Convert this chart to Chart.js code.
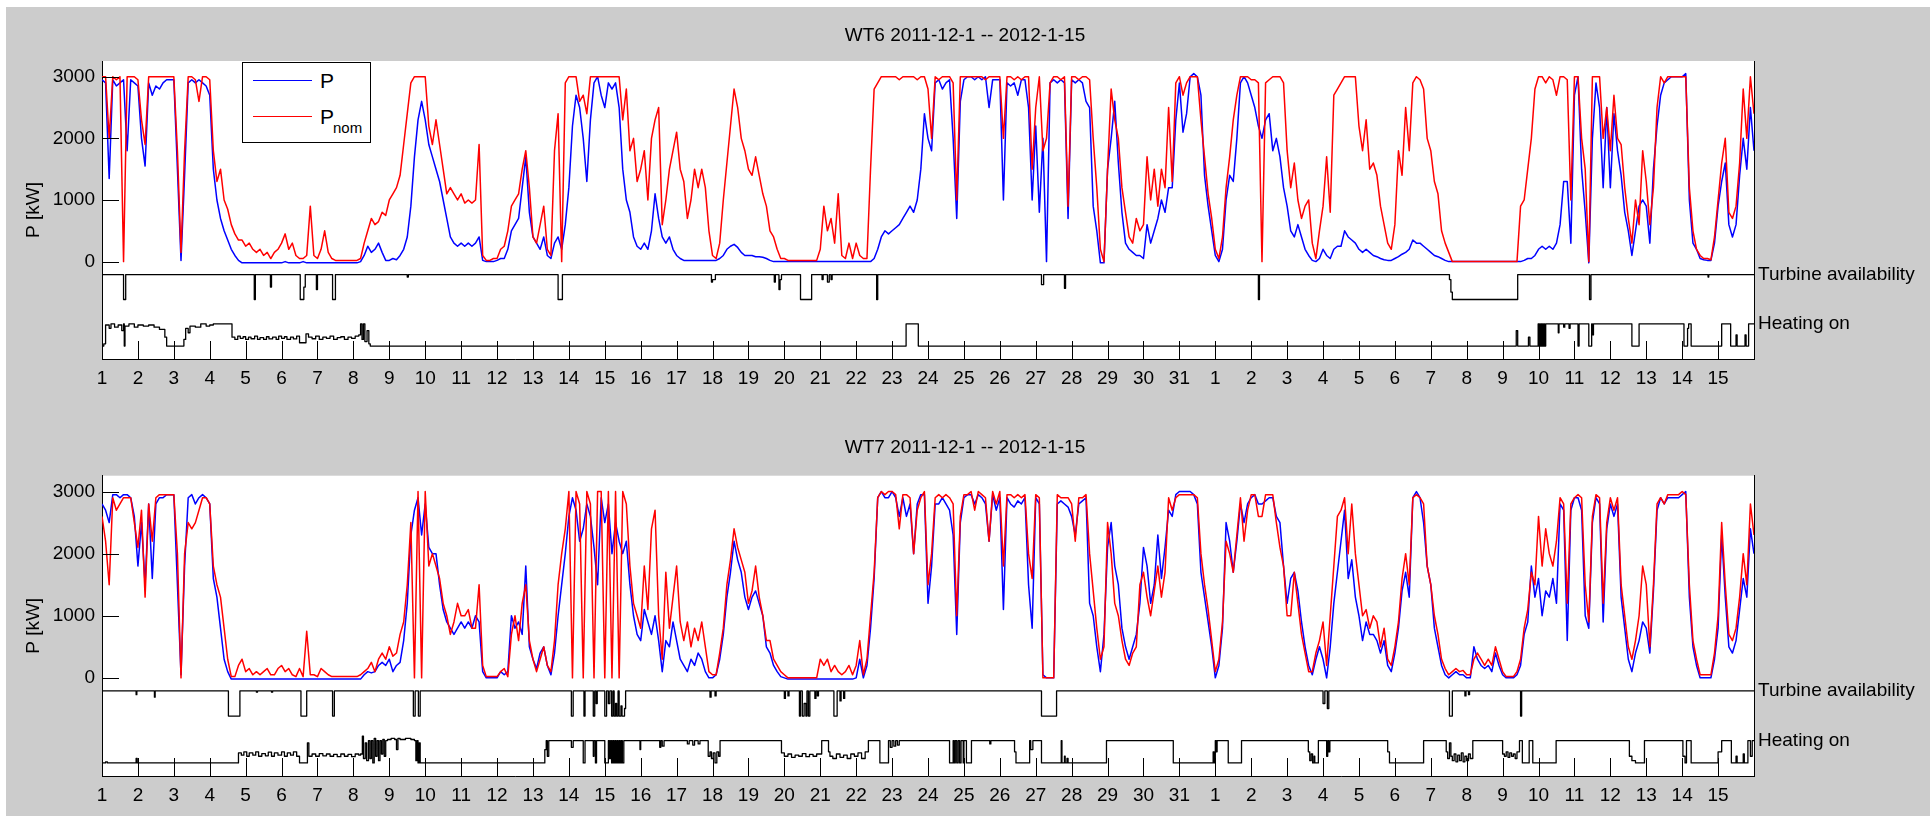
<!DOCTYPE html>
<html>
<head>
<meta charset="utf-8">
<script src="https://cdn.jsdelivr.net/npm/chart.js@4.4.1/dist/chart.umd.min.js"></script>
<style>
html,body{margin:0;padding:0;background:#ffffff;width:1930px;height:816px;overflow:hidden;}
#bg{position:absolute;left:6px;top:7px;width:1924px;height:809px;background:#cccccc;}
.wrap{position:absolute;left:0;width:1930px;height:408px;}
#w1{top:0;} #w2{top:408px;}
canvas{display:block;}
#legend{position:absolute;left:242px;top:62px;width:127px;height:79px;border:1px solid #000;background:#fff;
  font-family:"Liberation Sans",Arial,sans-serif;color:#000;}
#legend .ln{position:absolute;left:10px;width:59px;height:0;border-top:1.5px solid;}
#legend .tx{position:absolute;left:77px;font-size:21px;line-height:20px;}
#legend .sub{position:absolute;left:90px;font-size:15px;line-height:15px;}
</style>
</head>
<body>
<div id="bg"></div>
<div class="wrap" id="w1"><canvas id="c1" width="1930" height="408"></canvas></div>
<div class="wrap" id="w2"><canvas id="c2" width="1930" height="408"></canvas></div>
<div id="legend">
  <div class="ln" style="top:17px;border-color:#0000ff;"></div>
  <div class="tx" style="top:8px;" id="lg1"></div>
  <div class="ln" style="top:53px;border-color:#ff0000;"></div>
  <div class="tx" style="top:44px;" id="lg2"></div>
  <div class="sub" style="top:57px;" id="lg2s"></div>
</div>
<script>
// ---------------- data ----------------
const STEP = 0.1; // days between samples of the power series
const panelTitles = ['WT6 2011-12-1 -- 2012-1-15', 'WT7 2011-12-1 -- 2012-1-15'];
const seriesNames = ['P', 'P', 'nom'];
const statusLabels = ['Turbine availability', 'Heating on'];
const yLabel = 'P [kW]';
const yTicks = [0, 1000, 2000, 3000];
const dayLabels = ['1','2','3','4','5','6','7','8','9','10','11','12','13','14','15','16','17','18','19','20',
  '21','22','23','24','25','26','27','28','29','30','31','1','2','3','4','5','6','7','8','9','10','11','12','13','14','15'];

const wt6Pnom = [
 3000,3000,2000,3000,2950,3000,0,3000,3000,3000,
 2950,2300,1900,3000,3000,3000,3000,3000,3000,3000,
 3000,1800,150,1800,3000,3000,2950,2600,3000,3000,
 2950,1800,1300,1500,1000,850,600,450,350,350,
 250,300,200,150,200,100,150,50,150,200,
 300,450,200,300,100,50,50,100,900,100,
 50,200,500,150,50,20,20,20,20,20,
 20,20,50,300,500,700,600,650,800,750,
 1000,1100,1200,1400,1900,2400,2900,3000,3000,3000,
 3000,2200,1900,2300,1900,1500,1100,1200,1100,1000,
 1100,950,1000,950,1000,1900,100,20,20,50,
 50,200,250,500,900,1000,1100,1500,1800,1200,
 400,300,600,900,200,100,1800,2400,0,2900,
 3000,3000,3000,2600,2700,2400,3000,3000,3000,3000,
 3000,3000,3000,3000,3000,2300,2800,1800,2000,1300,
 1500,1800,1000,2000,2300,2500,600,1000,1500,1800,
 2100,1500,1300,700,1000,1500,1200,1500,1200,500,
 100,50,300,1000,1600,2200,2800,2500,2000,1800,
 1500,1400,1700,1400,1100,900,500,400,200,50,
 50,20,20,20,20,20,20,20,20,20,
 200,900,500,700,300,1100,100,50,300,50,
 300,100,50,50,1500,2800,2900,3000,3000,3000,
 3000,3000,2950,3000,3000,3000,3000,2950,3000,3000,
 2800,2000,3000,2950,3000,3000,3000,2900,1000,3000,
 3000,3000,3000,3000,3000,3000,2950,3000,3000,3000,
 3000,2000,3000,3000,2950,3000,2950,3000,3000,1500,
 2500,3000,1800,2000,2900,3000,3000,2950,3000,900,
 3000,3000,2950,3000,3000,2950,2000,1200,200,0,
 1500,2800,2300,2000,1200,800,400,300,700,500,
 600,1700,1000,1500,900,1500,1200,2500,1300,2900,
 3000,2700,2900,3000,3000,3000,2300,1700,1100,700,
 200,50,400,1200,1700,2300,2700,3000,3000,3000,
 2950,2950,2900,0,2900,2950,3000,3000,3000,2900,
 1800,1200,1600,1000,700,900,1000,300,50,500,
 900,1700,800,2700,2800,2900,3000,3000,3000,3000,
 2200,1800,2300,1500,1600,1400,900,600,300,200,
 600,1800,1400,2500,1800,2900,3000,2950,2800,2000,
 1800,1300,1100,500,300,150,0,0,0,0,
 0,0,0,0,0,0,0,0,0,0,
 0,0,0,0,0,900,1000,1500,2000,2800,
 3000,3000,2900,3000,2950,2700,3000,3000,2950,1000,
 3000,3000,2000,1500,0,3000,3000,3000,2000,2500,
 1800,2700,2000,1900,1200,700,300,1000,600,1800,
 1300,600,1200,2500,3000,2900,3000,3000,3000,3000,
 3000,3000,1200,500,200,100,50,50,30,400,
 1000,1600,2000,800,700,900,1600,2800,2000,3000,
 2400
];

const wt6P = [
 2950,2900,1350,2950,2850,2900,2950,1800,2950,2900,
 2850,2000,1550,2900,2700,2850,2800,2900,2950,2950,
 2950,1500,20,1400,2900,2950,2900,2950,2900,2850,
 2700,1500,1000,700,500,350,200,100,20,-20,
 -20,-20,-20,-20,-20,-20,-20,-20,-20,-20,
 -20,0,-20,-20,-20,-20,0,-20,-20,-20,
 -20,-20,-20,-20,-20,-20,-20,-20,-20,-20,
 -20,-20,0,100,250,150,200,300,150,20,
 20,50,30,100,200,400,900,1700,2300,2600,
 2300,1900,1700,1500,1300,1000,700,400,300,250,
 300,250,300,250,300,400,20,0,0,0,
 20,50,50,200,500,600,700,1200,1700,800,
 400,300,200,400,100,50,300,400,200,600,
 1200,2200,2700,2500,2000,1300,2300,2900,3000,2700,
 2500,2900,2800,2900,2500,1500,1000,800,400,250,
 200,300,200,500,1100,700,400,300,400,200,
 100,50,20,20,20,20,20,20,20,20,
 20,20,50,100,200,250,280,230,150,100,
 100,100,80,80,70,50,20,0,0,0,
 0,0,0,0,0,0,0,0,0,0,
 0,0,0,0,0,0,0,0,0,0,
 0,0,0,0,0,50,200,400,500,450,
 500,550,600,700,800,900,800,1000,1500,2400,
 2000,1800,2900,2950,2800,2900,2950,2000,700,2600,
 2950,3000,3000,2950,3000,2950,3000,2500,2950,2950,
 2950,1000,2900,2850,2900,2700,2950,2950,2500,1000,
 2200,800,2000,0,2900,2950,2900,2950,2900,700,
 2950,2900,2950,2900,2600,2500,900,500,-20,-20,
 1500,2000,2600,1600,800,300,200,150,100,100,
 50,600,300,500,700,1000,800,1200,1200,2300,
 2900,2100,2400,3000,3050,3000,2700,1400,900,500,
 100,0,200,1000,1400,1300,2000,2900,3000,2900,
 2700,2500,2200,2000,2300,2400,1800,2000,1700,1200,
 900,500,400,600,400,200,100,20,0,50,
 200,100,50,200,250,250,500,400,350,300,
 200,150,200,150,100,80,50,30,20,20,
 50,80,120,150,200,350,300,300,250,200,
 150,100,80,50,20,0,0,0,0,0,
 0,0,0,0,0,0,0,0,0,0,
 0,0,0,0,0,0,20,50,50,100,
 200,250,200,250,200,300,600,1300,1300,300,
 2700,3000,1500,800,-20,2000,2900,2500,1200,2500,
 1200,2400,1800,1400,800,500,100,500,900,1000,
 900,300,1500,2200,2700,2900,2950,3000,3000,3000,
 3000,3050,1000,300,200,50,30,20,20,300,
 900,1300,1600,600,400,600,1400,2000,1500,2500,
 1800
];

const wt7Pnom = [
 2600,2200,1500,2900,2700,2800,2900,2900,2900,2500,
 2100,2700,1300,2800,2200,2900,2950,2950,2950,2950,
 2950,2000,0,2000,2500,2400,2500,2700,2900,2900,
 2800,1800,1500,1300,800,300,20,20,200,300,
 100,150,50,100,50,100,150,50,50,150,
 200,100,150,50,20,150,20,750,50,50,
 20,150,100,50,20,20,20,20,20,20,
 20,20,50,100,150,250,100,300,400,300,
 500,350,400,700,900,1500,2500,0,3000,0,
 3000,1800,2000,1800,1600,1200,1000,700,900,1200,
 1000,1000,1100,800,800,1500,200,20,20,20,
 20,100,150,20,700,1000,600,1200,1500,600,
 300,100,300,500,200,100,600,1500,2000,2400,
 3000,0,3000,2800,0,3000,2800,0,3000,3000,
 0,3000,0,3000,0,3000,2800,1800,1200,1000,
 800,1800,1100,2400,2700,1000,300,1700,800,1300,
 1800,900,600,900,500,800,600,900,500,100,
 50,50,400,800,1500,1900,2400,2100,1900,1700,
 1200,1400,1800,1300,1000,600,600,300,200,100,
 50,0,0,0,0,0,0,0,0,0,
 300,200,300,100,200,100,50,100,200,50,
 200,600,50,300,1000,1700,2900,3000,2950,3000,
 3000,2950,2400,2950,2950,2900,2000,2700,2900,3000,
 1500,2000,2900,2950,2900,2950,2900,2800,1000,2600,
 2950,2950,3000,2700,3000,2950,2900,2200,3000,2800,
 3000,1800,2950,2950,2900,2950,2900,2950,2000,1600,
 2950,2900,0,0,0,0,2950,2900,2900,2900,
 2800,2200,2900,2900,2950,2000,1400,800,300,500,
 2500,2000,1200,1000,600,300,200,400,500,1500,
 1700,1300,1000,1400,1800,1300,1700,2900,2700,2900,
 2950,2950,2950,2950,2950,2900,2000,1500,1100,600,
 100,300,900,2200,2000,1700,2300,2900,2200,2700,
 2950,2950,2600,2600,2950,2950,2950,2500,2100,1800,
 1000,1000,1700,1200,700,400,100,100,400,600,
 900,200,1000,1800,2600,2700,2900,2000,2800,2000,
 1500,1000,1100,800,1000,900,500,800,300,200,
 500,900,1600,2000,1500,2900,2950,2900,2800,1800,
 1500,1000,700,300,150,50,100,150,100,120,
 50,50,300,400,300,200,300,200,500,300,
 100,20,20,20,100,300,800,1100,1700,1500,
 2600,1800,2400,2000,1800,2200,2900,2800,1200,2800,
 2900,2950,2900,1500,900,2600,2950,2900,1200,2500,
 2900,2700,2900,1500,1000,500,300,600,1000,1800,
 1500,500,1500,2800,2900,2800,2950,2950,2950,2950,
 3000,2950,1500,600,300,50,50,50,50,400,
 1000,2500,1500,700,600,800,1300,2000,1500,2800,
 2300
];

const wt7P = [
 2800,2700,2500,2950,2950,2900,2950,2950,2900,2600,
 1800,2500,1500,2800,1600,2800,2900,2900,2950,2950,
 2950,1500,50,1800,2900,2950,2800,2900,2950,2900,
 2800,1600,1300,800,300,100,-20,-20,-20,-20,
 -20,-20,-20,-20,-20,-20,-20,-20,-20,-20,
 -20,-20,-20,-20,-20,-20,-20,-20,-20,-20,
 -20,-20,-20,-20,-20,-20,-20,-20,-20,-20,
 -20,-20,-20,50,100,80,100,200,250,200,
 300,100,200,250,600,1200,2300,2700,2900,2300,
 2800,2100,2000,2000,1500,1100,900,800,700,800,
 900,800,900,800,1000,900,100,0,0,0,
 0,100,50,100,1000,800,900,700,1800,500,
 300,150,400,500,200,50,400,1000,1500,2000,
 2600,2900,2700,2200,2400,2800,2600,2100,1500,2900,
 2500,2800,2000,2500,2200,2000,2200,1500,1000,700,
 600,1100,900,700,1000,600,100,600,500,900,
 600,300,200,100,300,200,400,300,100,0,
 0,50,300,700,1300,1700,2200,1900,1700,1300,
 1100,1300,1400,1200,1000,500,400,200,100,20,
 0,-20,-20,-20,-20,-20,-20,-20,-20,-20,
 -20,-20,-20,-20,-20,-20,-20,-20,-20,-20,
 0,300,0,200,800,1600,2900,3000,2900,2900,
 3000,2900,2600,2900,2600,2800,2000,2800,2950,2950,
 1200,1800,2800,2800,2900,2800,2700,2300,700,2500,
 2900,2950,2950,2800,2950,2900,2800,2200,2950,2700,
 2900,1100,2900,2800,2750,2850,2800,2900,1500,800,
 2900,2800,50,0,0,0,2800,2850,2800,2750,
 2600,2300,2800,2850,2900,1200,1000,500,100,700,
 2100,2500,1800,1500,800,500,300,500,700,1200,
 2100,1800,1200,1500,2300,1600,2100,2700,2600,2950,
 3000,3000,3000,3000,2950,2800,1700,1300,900,500,
 0,200,800,2500,2200,1700,2200,2800,2500,2800,
 2900,2950,2800,2800,2850,2900,2900,2600,2500,1800,
 1200,1600,1700,1400,900,500,200,50,300,500,
 300,0,500,1200,1700,2200,2700,1600,1900,1300,
 1000,600,900,700,700,600,400,600,200,100,
 400,800,1400,1700,1300,2900,3000,2900,2500,1800,
 1500,800,500,200,50,0,50,100,50,50,
 0,0,500,300,200,150,200,100,400,200,
 50,0,0,0,50,200,700,900,1800,1300,
 1600,1000,1400,1300,1600,1200,2800,2700,600,2700,
 2900,2900,2700,1000,800,2500,2900,2800,900,2400,
 2800,2600,2800,1300,800,300,100,400,600,900,
 800,400,1400,2700,2900,2800,2900,2900,2900,2900,
 2950,3000,1300,500,200,0,0,0,0,300,
 800,2300,1300,500,400,600,1100,1600,1300,2400,
 2000
];

// status series: [day, state] change points (state 1 = available / heating on)
const wt6Avail = [[0,1],[0.6,0],[0.66,1],[4.24,0],[4.27,1],[4.69,0.5],[4.72,1],[5.52,0],[5.62,0.5],[5.66,1],
 [5.97,0.4],[6.0,1],[6.42,0],[6.5,1],[8.5,0.9],[8.53,1],[12.7,0],[12.82,1],[16.97,0.7],[17.0,0.8],[17.08,1],
 [18.72,0.7],[18.75,1],[18.85,0.4],[18.88,0.8],[18.92,1],[19.45,0],[19.76,1],[20.05,0.8],[20.08,1],[20.2,0.7],
 [20.25,1],[20.3,0.8],[20.33,1],[21.57,0],[21.6,1],[26.16,0.6],[26.22,1],[26.8,0.45],[26.83,1],[32.2,0],[32.23,1],
 [37.52,0.8],[37.56,0.3],[37.6,0],[39.42,1],[41.42,0],[41.46,1],[44.72,0.9],[44.74,1],[46,1]];

const wt6Heat = [[0,0],[0.05,0.1],[0.1,0.95],[0.2,0.8],[0.25,1],[0.35,0.85],[0.45,0.95],[0.55,0.7],[0.6,1],[0.62,0],
 [0.64,0.9],[0.75,1],[0.9,0.85],[1.0,0.95],[1.15,0.9],[1.3,0.95],[1.45,0.85],[1.6,0.75],[1.75,0.4],[1.8,0],
 [2.28,0.3],[2.33,0.8],[2.4,0.6],[2.45,0.9],[2.6,0.85],[2.75,1],[2.9,0.9],[3.0,0.95],[3.1,1],[3.62,0.4],
 [3.7,0.3],[3.78,0.45],[3.85,0.35],[3.93,0.42],[4.0,0.3],[4.08,0.4],[4.15,0.33],[4.25,0.45],[4.33,0.3],[4.4,0.38],
 [4.5,0.3],[4.58,0.42],[4.65,0.32],[4.75,0.4],[4.85,0.3],[4.92,0.45],[5.0,0.35],[5.08,0.42],[5.15,0.3],[5.25,0.4],
 [5.33,0.32],[5.42,0.45],[5.5,0.15],[5.68,0.55],[5.75,0.4],[5.85,0.33],[5.95,0.45],[6.05,0.3],[6.15,0.4],[6.25,0.35],
 [6.35,0.45],[6.45,0.3],[6.55,0.38],[6.65,0.42],[6.75,0.3],[6.85,0.4],[6.95,0.35],[7.05,0.45],[7.15,0.5],[7.2,1],
 [7.24,0.3],[7.28,1],[7.32,0.2],[7.38,0.7],[7.43,0.1],[7.47,0],[22.39,1],[22.73,0],[39.38,0.7],[39.42,0],
 [39.72,0.4],[39.76,0],[39.99,1],[40.01,0],[40.03,1],[40.05,0],[40.07,1],[40.09,0],[40.11,1],[40.13,0],[40.15,1],
 [40.17,0],[40.2,1],[40.55,0.6],[40.57,1],[40.7,0.85],[40.73,1],[40.85,0.8],[40.88,1],[41.1,0],[41.13,1],[41.4,0],
 [41.48,1],[41.5,0.5],[41.53,1],[42.6,0],[42.8,1],[44.05,0],[44.15,0.8],[44.18,1],[44.25,0],[45.1,1],[45.35,0],
 [45.5,0.5],[45.53,0],[45.75,0.5],[45.78,0],[45.85,1],[46,1]];

const wt7Avail = [[0,1],[0.95,0.85],[0.97,1],[1.46,0.75],[1.48,1],[3.52,0],[3.84,1],[4.3,0.95],[4.33,1],[4.72,0.95],
 [4.75,1],[5.54,0],[5.7,1],[6.42,0],[6.47,1],[8.67,0],[8.72,1],[8.81,0],[8.86,1],[13.07,0],[13.12,1],[13.42,0],
 [13.45,1],[13.68,0],[13.72,1],[13.76,0.5],[13.79,1],[14.0,0],[14.05,1],[14.1,0.5],[14.14,1],[14.19,0],[14.23,1],
 [14.26,0],[14.3,0.5],[14.33,0],[14.37,1],[14.4,0],[14.45,0.4],[14.48,0],[14.55,0.3],[14.58,1],[16.93,0.75],
 [16.96,1],[17.07,0.8],[17.1,1],[19.0,0.7],[19.03,1],[19.1,0.8],[19.13,1],[19.42,0],[19.45,1],[19.5,0],[19.55,0.5],
 [19.6,0],[19.63,1],[19.67,0],[19.71,1],[19.85,0.7],[19.88,1],[19.92,0.8],[19.95,1],[20.38,0],[20.47,1],[20.55,0.6],
 [20.58,1],[20.65,0.7],[20.68,1],[26.16,0],[26.58,1],[34.0,0.5],[34.05,1],[34.12,0.3],[34.16,1],[37.52,0],[37.6,1],
 [37.95,0.8],[37.98,1],[38.05,0.85],[38.08,1],[39.5,0],[39.53,1],[46,1]];

const wt7Heat = [[0,0],[0.1,0.05],[0.15,0],[0.95,0.2],[0.98,0],[3.8,0.45],[3.88,0.35],[3.95,0.5],[4.03,0.3],
 [4.1,0.45],[4.2,0.35],[4.28,0.5],[4.36,0.3],[4.45,0.42],[4.55,0.32],[4.63,0.48],[4.72,0.3],[4.8,0.45],[4.9,0.35],
 [5.0,0.5],[5.08,0.3],[5.16,0.45],[5.25,0.35],[5.33,0.5],[5.42,0.3],[5.5,0],[5.72,0.9],[5.76,0.3],[5.85,0.4],
 [5.95,0.3],[6.05,0.42],[6.15,0.32],[6.25,0.4],[6.35,0.3],[6.45,0.38],[6.55,0.28],[6.65,0.4],[6.75,0.3],[6.85,0.38],
 [6.95,0.28],[7.05,0.4],[7.15,0.35],[7.2,0.4],[7.25,1.2],[7.28,0.2],[7.33,0.9],[7.37,0.1],[7.42,1],[7.46,0.2],
 [7.5,1],[7.54,0],[7.58,1.1],[7.62,0.3],[7.66,1],[7.7,0.1],[7.74,1],[7.78,0.4],[7.82,1.05],[7.86,0.3],[7.9,1],
 [7.95,1.05],[8.05,1.1],[8.15,1.05],[8.2,0.6],[8.24,1.1],[8.3,1.05],[8.45,1.1],[8.6,1.05],[8.7,1],[8.74,0.1],
 [8.77,1],[8.8,0],[8.83,0.9],[8.86,0],[12.33,0.6],[12.37,1],[12.4,0.3],[12.44,1],[13.07,0.7],[13.12,1],[13.4,0],
 [13.45,1],[13.68,0.3],[13.7,1],[13.74,0],[13.77,1],[14.0,0],[14.1,1],[14.13,0.2],[14.16,1],[14.19,0],[14.22,1],
 [14.25,0],[14.28,1],[14.31,0],[14.34,1],[14.37,0],[14.4,1],[14.43,0],[14.46,1],[14.49,0],[14.53,1],[14.98,0.6],
 [15.0,1],[15.53,0.7],[15.56,1],[15.6,0.75],[15.65,1],[16.3,0.85],[16.35,1],[16.45,0.8],[16.5,1],[16.6,0.85],
 [16.65,1],[16.88,0.3],[16.93,0.5],[16.97,0.2],[17.02,0.45],[17.07,0],[17.12,0.5],[17.17,0.3],[17.21,1],
 [18.92,0.45],[19.0,0.3],[19.1,0.4],[19.2,0.25],[19.3,0.35],[19.4,0.3],[19.5,0.42],[19.6,0.28],[19.7,0.38],
 [19.8,0.3],[19.9,0.4],[20.04,1],[20.23,0.5],[20.27,0.3],[20.35,0.2],[20.45,0.4],[20.55,0.25],[20.65,0.35],
 [20.75,0.2],[20.85,0.4],[20.95,0.3],[21.05,0.45],[21.15,0.2],[21.25,0.5],[21.34,1],[21.66,0],[21.9,1],[21.95,0.7],
 [22.0,1],[22.05,0.75],[22.1,1],[22.15,0.8],[22.2,1],[23.6,0],[23.7,1],[23.73,0],[23.76,1],[23.8,0],[23.84,1],
 [23.88,0],[23.92,1],[23.98,0],[24.0,1],[24.07,0],[24.21,1],[24.72,0.85],[24.75,1],[25.41,0.5],[25.45,0],[25.83,1],
 [25.86,0.6],[25.92,1],[26.16,0],[26.71,1],[26.73,0],[26.8,0.3],[26.82,0],[26.87,0.2],[26.9,0],[27.97,1],[29.83,0],
 [30.94,0.5],[30.97,0],[31.0,1],[31.03,0.5],[31.05,1],[31.36,0],[31.73,1],[33.59,0.5],[33.63,0.1],[33.67,0.4],
 [33.71,0],[33.75,0.3],[33.77,0],[33.87,1],[34.1,0.3],[34.13,1],[34.16,0.5],[34.19,1],[35.8,0.5],[35.85,0],
 [36.8,1],[37.43,0.5],[37.47,0.2],[37.52,0.9],[37.56,0.3],[37.6,0.1],[37.65,0.4],[37.7,0.05],[37.75,0.35],
 [37.8,0.1],[37.85,0.45],[37.9,0.05],[37.95,0.3],[38.0,0.1],[38.05,0.4],[38.1,0.2],[38.17,1],[39.0,0.4],
 [39.05,0.3],[39.1,0.5],[39.15,0.25],[39.2,0.45],[39.25,0.3],[39.3,0.4],[39.35,0.2],[39.4,0.5],[39.47,1],
 [39.55,0],[39.74,1],[39.84,0],[40.49,1],[42.53,0.3],[42.6,0.1],[42.7,0],[42.95,1],[44.02,0.3],[44.08,0],
 [44.12,1],[44.25,0],[45.0,0.5],[45.1,1],[45.37,0],[45.5,0.3],[45.53,0],[45.7,0.4],[45.73,0],[45.83,1],
 [45.9,0.3],[45.95,1],[46,1]];

// ---------------- layout / style ----------------
const FONT = '"Liberation Sans", Arial, sans-serif';
const Y_MIN = -1580, Y_MAX = 3255;
const AV_HI = -210, AV_LO = -615, HT_HI = -1010, HT_LO = -1370;
const X_MAX = 46;

document.getElementById('lg1').textContent = seriesNames[0];
document.getElementById('lg2').textContent = seriesNames[1];
document.getElementById('lg2s').textContent = seriesNames[2];

const toXY = arr => arr.map((v, i) => ({x: Math.round(i * STEP * 10) / 10, y: v}));
const toStatus = (arr, hi, lo) => arr.map(([x, v]) => ({x: x, y: lo + v * (hi - lo)}));

const areaBg = {
  id: 'areaBg',
  beforeDraw(chart) {
    const {ctx, chartArea: a} = chart;
    ctx.save(); ctx.fillStyle = '#ffffff';
    ctx.fillRect(a.left, a.top, a.right - a.left, a.bottom - a.top);
    ctx.restore();
  }
};
const inwardTicks = {
  id: 'inwardTicks',
  afterDatasetsDraw(chart) {
    const {ctx, chartArea: a, scales: {x, y}} = chart;
    ctx.save(); ctx.strokeStyle = '#000'; ctx.lineWidth = 1; ctx.beginPath();
    x.ticks.forEach(t => { const px = Math.round(x.getPixelForValue(t.value)) + 0.5;
      ctx.moveTo(px, a.bottom); ctx.lineTo(px, a.bottom - 18); });
    y.ticks.forEach(t => { const py = Math.round(y.getPixelForValue(t.value)) + 0.5;
      ctx.moveTo(a.left, py); ctx.lineTo(a.left + 17, py); });
    ctx.stroke(); ctx.restore();
  }
};

function makePanel(id, title, p, pnom, avail, heat, cfg) {
  const lineDs = (label, data, color, order) => ({label, data, borderColor: color, backgroundColor: color,
    borderWidth: 1.5, pointRadius: 0, pointHoverRadius: 0, tension: 0, order, borderJoinStyle: 'round', fill: false});
  return new Chart(document.getElementById(id), {
    type: 'line',
    data: {
      datasets: [
        lineDs('Pnom', toXY(pnom), '#ff0000', 0),
        lineDs('P', toXY(p), '#0000ff', 1),
        Object.assign(lineDs(statusLabels[0], toStatus(avail, AV_HI, AV_LO), '#000000', 2), {stepped: true, borderWidth: 1.3}),
        Object.assign(lineDs(statusLabels[1], toStatus(heat, HT_HI, HT_LO), '#000000', 3), {stepped: true, borderWidth: 1.3})
      ]
    },
    options: {
      responsive: false, animation: false, devicePixelRatio: 1,
      layout: {padding: 0},
      events: [],
      plugins: {
        legend: {display: false}, tooltip: {enabled: false},
        title: {display: true, text: title, color: '#000',
          font: {family: FONT, size: 19, weight: 'normal', lineHeight: 1.2},
          padding: {top: cfg.tTop, bottom: cfg.tBot}}
      },
      scales: {
        x: {type: 'linear', position: 'bottom', min: 0, max: X_MAX,
          grid: {display: false, drawTicks: false},
          border: {display: true, color: '#000', width: 1},
          afterBuildTicks: s => { s.ticks = dayLabels.map((_, i) => ({value: i})); },
          ticks: {autoSkip: false, maxRotation: 0, padding: 8, color: '#000',
            font: {family: FONT, size: 19}, callback: (v, i) => dayLabels[i]},
          afterFit: s => { s.height = cfg.xH; }
        },
        y: {type: 'linear', position: 'left', min: Y_MIN, max: Y_MAX,
          grid: {display: false, drawTicks: false},
          border: {display: true, color: '#000', width: 1},
          afterBuildTicks: s => { s.ticks = yTicks.map(v => ({value: v})); },
          ticks: {autoSkip: false, padding: 7, color: '#000', font: {family: FONT, size: 19},
            callback: (v, i) => String(yTicks[i])},
          title: {display: true, text: yLabel, color: '#000', font: {family: FONT, size: 19, lineHeight: 1.2},
            padding: {top: 22, bottom: 0}},
          afterFit: s => { s.width = 102; }
        },
        y2: {type: 'linear', position: 'right', min: Y_MIN, max: Y_MAX,
          grid: {display: false, drawTicks: false},
          border: {display: true, color: '#000', width: 1},
          afterBuildTicks: s => { s.ticks = [AV_HI, HT_HI].map(v => ({value: v})); },
          ticks: {autoSkip: false, padding: 4, color: '#000', font: {family: FONT, size: 19},
            callback: (v, i) => statusLabels[i]},
          afterFit: s => { s.width = 176; }
        }
      }
    },
    plugins: [areaBg, inwardTicks]
  });
}

[wt6Pnom, wt6P, wt7Pnom, wt7P].forEach((a, i) => { if (a.length !== 461) console.error('length', i, a.length); });

makePanel('c1', panelTitles[0], wt6P, wt6Pnom, wt6Avail, wt6Heat, {tTop: 24.6, tBot: 13.6, xH: 49});
makePanel('c2', panelTitles[1], wt7P, wt7Pnom, wt7Avail, wt7Heat, {tTop: 28.6, tBot: 16.3, xH: 40});
</script>
</body>
</html>
